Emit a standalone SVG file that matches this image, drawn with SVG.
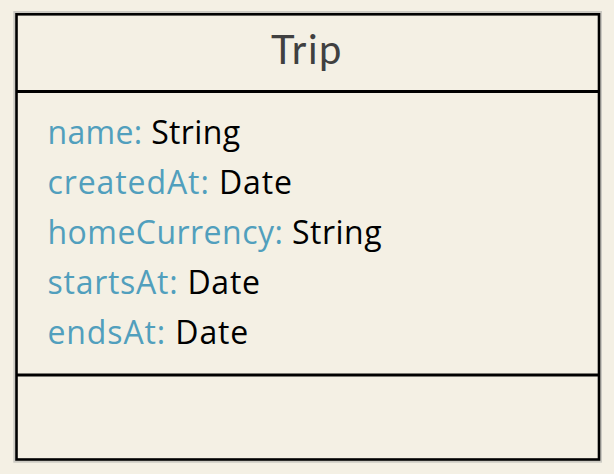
<svg xmlns="http://www.w3.org/2000/svg" width="614" height="474" viewBox="0 0 614 474">
<style>
.bg{fill:#f4f0e4}
.shadow{fill:none;stroke:#cbc9c2;stroke-width:2}
.box{fill:#f4f0e4;stroke:#000;stroke-width:2.6}
.div{stroke:#000;stroke-width:3.2}
.title{font-family:Lato,"Liberation Sans",sans-serif;font-size:40px;fill:#404040}
.attr{font-family:"Open Sans","Liberation Sans",sans-serif;font-size:32px;fill:#000}
.key{fill:#519fbd}
</style>
<rect class="bg" x="0" y="0" width="614" height="474"/>
<g id="trip">
<rect class="shadow" x="14.3" y="12" width="586.7" height="449.7"/>
<rect class="box" x="16.5" y="14.3" width="582.5" height="445.2"/>
<line class="div" x1="16.5" y1="91.5" x2="599" y2="91.5"/>
<line class="div" x1="16.5" y1="375" x2="599" y2="375"/>
<text class="title" x="271" y="63.5" textLength="70.5" lengthAdjust="spacing">Trip</text>
<text class="attr" x="47.5" y="144" textLength="192.5" lengthAdjust="spacing"><tspan class="key">name:</tspan> String</text>
<text class="attr" x="47.5" y="194" textLength="244.5" lengthAdjust="spacing"><tspan class="key">createdAt:</tspan> Date</text>
<text class="attr" x="47.5" y="244" textLength="334" lengthAdjust="spacing"><tspan class="key">homeCurrency:</tspan> String</text>
<text class="attr" x="47.5" y="294" textLength="212.5" lengthAdjust="spacing"><tspan class="key">startsAt:</tspan> Date</text>
<text class="attr" x="47.5" y="344" textLength="200.8" lengthAdjust="spacing"><tspan class="key">endsAt:</tspan> Date</text>
</g>
</svg>
